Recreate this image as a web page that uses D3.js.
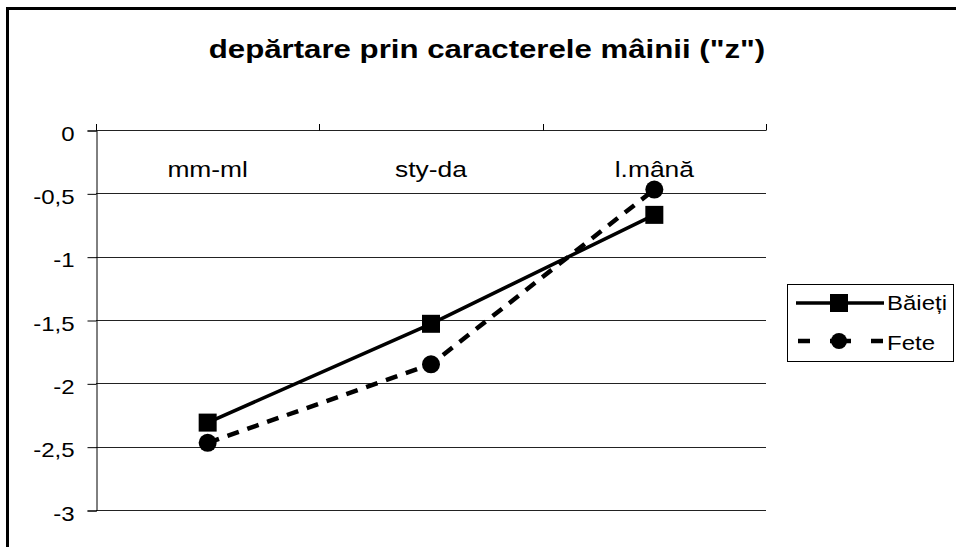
<!DOCTYPE html>
<html>
<head>
<meta charset="utf-8">
<script src="https://cdn.jsdelivr.net/npm/d3@7"></script>
<style>
  html, body { margin: 0; padding: 0; background: #fff; }
  svg { display: block; font-family: "Liberation Sans", Arial, sans-serif; }
</style>
</head>
<body>
<svg id="chart" width="956" height="547"></svg>
<script>
// Chart data
const categories = ["mm-ml", "sty-da", "l.mână"];
const baieti = [-2.31, -1.53, -0.67];
const fete = [-2.47, -1.85, -0.47];
const yTicks = [0, -0.5, -1, -1.5, -2, -2.5, -3];
const seriesNames = ["Băieți", "Fete"];
const titleText = 'depărtare prin caracterele mâinii ("z")';

// Text is drawn slightly widened horizontally
const SX = 1.2;
const place = (sel, x, y) => sel.attr("x", 0).attr("y", 0)
  .attr("transform", `translate(${x},${y}) scale(${SX},1)`);

const svg = d3.select("#chart");

// Outer chart frame (extends past the right and bottom edges)
svg.append("rect")
  .attr("x", 7.5).attr("y", 8.5)
  .attr("width", 1000).attr("height", 600)
  .attr("fill", "#fff").attr("stroke", "#000").attr("stroke-width", 3);

// Title
svg.append("text")
  .attr("text-anchor", "middle")
  .attr("font-size", 26).attr("font-weight", "bold")
  .text(titleText)
  .call(place, 487, 58);

const plot = { left: 96, right: 766, top: 130, bottom: 510 };

const x = d3.scaleBand().domain(categories).range([plot.left, plot.right]).padding(0);
const y = d3.scaleLinear().domain([-3, 0]).range([plot.bottom, plot.top]);

// Horizontal gridlines
svg.append("g")
  .selectAll("line")
  .data(yTicks)
  .join("line")
  .attr("x1", plot.left).attr("x2", plot.right)
  .attr("y1", d => Math.round(y(d)) + 0.5).attr("y2", d => Math.round(y(d)) + 0.5)
  .attr("stroke", "#222").attr("stroke-width", 1);

// Value axis on the left
const yAxis = d3.axisLeft(y)
  .tickValues(yTicks)
  .tickSize(9)
  .tickFormat(d => String(d).replace(".", ","));
const gy = svg.append("g")
  .attr("transform", `translate(${plot.left + 0.5},0.5)`)
  .call(yAxis);
gy.select(".domain").attr("stroke", "#000");
gy.selectAll(".tick line").attr("stroke", "#000");
gy.selectAll(".tick text")
  .attr("font-size", 20).attr("fill", "#000").attr("dy", null)
  .attr("font-family", "'Liberation Sans', Arial, sans-serif")
  .attr("x", 0)
  .attr("transform", `translate(-22,9.5) scale(${SX},1)`);

// Category axis at value 0 (labels hang below the line, ticks point up)
const boundaries = categories.map(c => x(c) + x.bandwidth()).concat([plot.left]);
svg.append("g")
  .selectAll("line")
  .data(boundaries)
  .join("line")
  .attr("x1", d => Math.round(d) + 0.5).attr("x2", d => Math.round(d) + 0.5)
  .attr("y1", Math.round(y(0)) + 0.5).attr("y2", Math.round(y(0)) - 6)
  .attr("stroke", "#000");

svg.append("g")
  .selectAll("text")
  .data(categories)
  .join("text")
  .attr("text-anchor", "middle")
  .attr("font-size", 22)
  .text(d => d)
  .each(function(d) { d3.select(this).call(place, x(d) + x.bandwidth() / 2, y(0) + 47); });

const cx = d => x(d) + x.bandwidth() / 2;

const lineGen = d3.line().x(d => cx(d.c)).y(d => y(d.v));
const feteData = categories.map((c, i) => ({ c, v: fete[i] }));
const baietiData = categories.map((c, i) => ({ c, v: baieti[i] }));

// Fete: dashed line with circle markers
svg.append("path")
  .datum(feteData)
  .attr("d", lineGen)
  .attr("fill", "none").attr("stroke", "#000")
  .attr("stroke-width", 4.5).attr("stroke-dasharray", "12,9");

// Băieți: solid line with square markers
svg.append("path")
  .datum(baietiData)
  .attr("d", lineGen)
  .attr("fill", "none").attr("stroke", "#000")
  .attr("stroke-width", 3.5);

svg.append("g")
  .selectAll("circle")
  .data(feteData)
  .join("circle")
  .attr("cx", d => cx(d.c)).attr("cy", d => y(d.v))
  .attr("r", 9).attr("fill", "#000");

svg.append("g")
  .selectAll("rect")
  .data(baietiData)
  .join("rect")
  .attr("x", d => cx(d.c) - 9).attr("y", d => y(d.v) - 9)
  .attr("width", 18).attr("height", 18).attr("fill", "#000");

// Legend
const lg = svg.append("g");
lg.append("rect")
  .attr("x", 787.5).attr("y", 284.5).attr("width", 166).attr("height", 77)
  .attr("fill", "#fff").attr("stroke", "#000").attr("stroke-width", 1);

const lx1 = 796, lx2 = 884, lmx = 839;
// row 1
lg.append("line").attr("x1", lx1).attr("x2", lx2).attr("y1", 303).attr("y2", 303)
  .attr("stroke", "#000").attr("stroke-width", 3.5);
lg.append("rect").attr("x", lmx - 9).attr("y", 294).attr("width", 18).attr("height", 18).attr("fill", "#000");
lg.append("text").attr("font-size", 20).text(seriesNames[0]).call(place, 887, 310);
// row 2
lg.append("line").attr("x1", 798).attr("x2", 883).attr("y1", 341).attr("y2", 341)
  .attr("stroke", "#000").attr("stroke-width", 4.5).attr("stroke-dasharray", "12,20,21,20,12");
lg.append("circle").attr("cx", lmx).attr("cy", 341).attr("r", 8).attr("fill", "#000");
lg.append("text").attr("font-size", 20).text(seriesNames[1]).call(place, 887, 350);
</script>
</body>
</html>
